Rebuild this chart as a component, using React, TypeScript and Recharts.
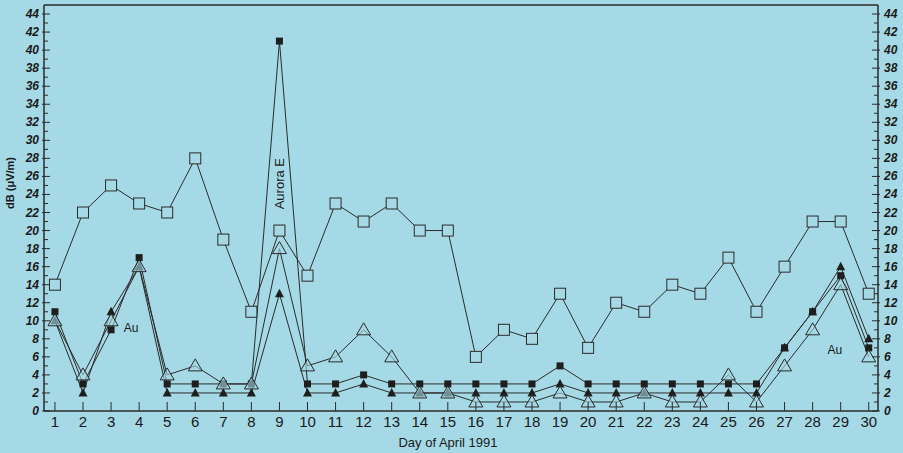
import { Line, LineChart, ReferenceDot, ReferenceLine, XAxis, YAxis } from "recharts";

const BG = "#a5d9e5";
const INK = "#2b2b2b";
const FONT = "'Liberation Sans', Arial, Helvetica, sans-serif";

const days = [
  1, 2, 3, 4, 5, 6, 7, 8, 9, 10, 11, 12, 13, 14, 15, 16, 17, 18, 19, 20, 21,
  22, 23, 24, 25, 26, 27, 28, 29, 30,
];
// open squares
const openSquare = [
  14, 22, 25, 23, 22, 28, 19, 11, 20, 15, 23, 21, 23, 20, 20, 6, 9, 8, 13, 7,
  12, 11, 14, 13, 17, 11, 16, 21, 21, 13,
];
// filled squares
const filledSquare = [
  11, 3, 9, 17, 3, 3, 3, 3, 41, 3, 3, 4, 3, 3, 3, 3, 3, 3, 5, 3, 3, 3, 3, 3, 3,
  3, 7, 11, 15, 7,
];
// filled triangles
const filledTriangle = [
  10, 2, 11, 16, 2, 2, 2, 2, 13, 2, 2, 3, 2, 2, 2, 2, 2, 2, 3, 2, 2, 2, 2, 2, 2,
  2, 7, 11, 16, 8,
];
// open triangles
const openTriangle = [
  10, 4, 10, 16, 4, 5, 3, 3, 18, 5, 6, 9, 6, 2, 2, 1, 1, 1, 2, 1, 1, 2, 1, 1, 4,
  1, 5, 9, 14, 6,
];

const yTicks = Array.from({ length: 45 }, (_, i) => i); // 0..44, labels on even

const data = days.map((d, i) => ({
  day: d,
  os: openSquare[i],
  fs: filledSquare[i],
  ft: filledTriangle[i],
  ot: openTriangle[i],
}));

const OpenSquareDot = (p: any) => (
  <rect
    key={`os-${p.index}`}
    x={p.cx - 5.5}
    y={p.cy - 5.5}
    width={11}
    height={11}
    fill={BG}
    stroke={INK}
    strokeWidth={1}
  />
);
const FilledSquareDot = (p: any) => (
  <rect
    key={`fs-${p.index}`}
    x={p.cx - 3.5}
    y={p.cy - 3.5}
    width={7}
    height={7}
    fill="#1e1e1e"
  />
);
const FilledTriangleDot = (p: any) => (
  <path
    key={`ft-${p.index}`}
    d={`M${p.cx},${p.cy - 5} L${p.cx + 4.5},${p.cy + 3.5} L${p.cx - 4.5},${p.cy + 3.5} Z`}
    fill="#1e1e1e"
  />
);
const OpenTriangleDot = (p: any) => (
  <path
    key={`ot-${p.index}`}
    d={`M${p.cx},${p.cy - 7} L${p.cx + 7},${p.cy + 5} L${p.cx - 7},${p.cy + 5} Z`}
    fill={BG}
    fillOpacity={0.6}
    stroke={INK}
    strokeWidth={1}
  />
);

const LeftTick = (p: any) => {
  const v = p.payload.value;
  const major = v % 2 === 0;
  return (
    <g>
      <line x1={p.x - (major ? 2 : 0)} x2={p.x + (major ? 6 : 4)} y1={p.y} y2={p.y} stroke={INK} />
      {major && (
        <text
          x={p.x - 5}
          y={p.y + 4}
          textAnchor="end"
          fontSize={12}
          fontWeight="bold"
          fontStyle="italic"
          fill="#1a1a1a"
          fontFamily={FONT}
        >
          {v}
        </text>
      )}
    </g>
  );
};

const RightTick = (p: any) => {
  const v = p.payload.value;
  const major = v % 2 === 0;
  return (
    <g>
      <line x1={p.x + (major ? 2 : 0)} x2={p.x - (major ? 6 : 4)} y1={p.y} y2={p.y} stroke={INK} />
      {major && (
        <text
          x={p.x + 6}
          y={p.y + 4}
          textAnchor="start"
          fontSize={12}
          fontWeight="bold"
          fontStyle="italic"
          fill="#1a1a1a"
          fontFamily={FONT}
        >
          {v}
        </text>
      )}
    </g>
  );
};

const DayTick = (p: any) => (
  <g>
    <line x1={p.x} x2={p.x} y1={p.y} y2={p.y - 9} stroke={INK} />
    <text
      x={p.x}
      y={p.y + 16}
      textAnchor="middle"
      fontSize={15}
      fill="#1a1a1a"
      fontFamily={FONT}
    >
      {p.payload.value}
    </text>
  </g>
);

export default function App() {
  return (
    <div
      style={{
        position: "absolute",
        left: 0,
        top: 0,
        width: 903,
        height: 453,
        background: BG,
      }}
    >
      <LineChart
        width={903}
        height={453}
        data={data}
        margin={{ top: 5, right: 0, bottom: 0, left: 0 }}
      >
        <XAxis
          dataKey="day"
          type="number"
          domain={[0.61, 30.33]}
          allowDataOverflow
          ticks={days}
          interval={0}
          height={42}
          tickSize={0}
          tickMargin={0}
          tick={DayTick}
          axisLine={{ stroke: INK, strokeWidth: 1.5 }}
          label={{
            content: (lp: any) => (
              <text
                x={lp.viewBox.x + lp.viewBox.width / 2 - 13}
                y={lp.viewBox.y + 36}
                textAnchor="middle"
                fontSize={13}
                fill="#1a1a1a"
                fontFamily={FONT}
              >
                Day of April 1991
              </text>
            ),
          }}
        />
        <YAxis
          yAxisId="left"
          type="number"
          domain={[0, 45]}
          allowDataOverflow
          ticks={yTicks}
          interval={0}
          width={44}
          tickSize={0}
          tickMargin={0}
          tick={LeftTick}
          axisLine={{ stroke: INK, strokeWidth: 1.5 }}
          label={{
            content: (lp: any) => {
              const x = lp.viewBox.x + 14;
              const y = lp.viewBox.y + 178;
              return (
                <text
                  x={x}
                  y={y}
                  transform={`rotate(-90, ${x}, ${y})`}
                  textAnchor="middle"
                  fontSize={11}
                  fontWeight="bold"
                  fill="#1a1a1a"
                  fontFamily={FONT}
                >
                  dB (μV/m)
                </text>
              );
            },
          }}
        />
        <YAxis
          yAxisId="right"
          orientation="right"
          type="number"
          domain={[0, 45]}
          allowDataOverflow
          ticks={yTicks}
          interval={0}
          width={25}
          tickSize={0}
          tickMargin={0}
          tick={RightTick}
          axisLine={{ stroke: INK, strokeWidth: 1.5 }}
        />
        <ReferenceLine yAxisId="left" y={45} stroke={INK} strokeWidth={1.5} />
        <Line
          yAxisId="left"
          dataKey="os"
          stroke={INK}
          strokeWidth={1}
          dot={OpenSquareDot}
          isAnimationActive={false}
        />
        <Line
          yAxisId="left"
          dataKey="fs"
          stroke={INK}
          strokeWidth={1}
          dot={FilledSquareDot}
          isAnimationActive={false}
        />
        <Line
          yAxisId="left"
          dataKey="ft"
          stroke={INK}
          strokeWidth={1}
          dot={FilledTriangleDot}
          isAnimationActive={false}
        />
        <Line
          yAxisId="left"
          dataKey="ot"
          stroke={INK}
          strokeWidth={1}
          dot={OpenTriangleDot}
          isAnimationActive={false}
        />
        <ReferenceDot
          yAxisId="left"
          x={9}
          y={25.2}
          r={0}
          label={{
            value: "Aurora E",
            angle: -90,
            position: "center",
            fontSize: 13,
            fill: "#1a1a1a",
            fontFamily: FONT,
          }}
        />
        <ReferenceDot
          yAxisId="left"
          x={3.71}
          y={9.2}
          r={0}
          label={{ value: "Au", position: "center", fontSize: 12, fill: "#1a1a1a", fontFamily: FONT }}
        />
        <ReferenceDot
          yAxisId="left"
          x={28.79}
          y={6.75}
          r={0}
          label={{ value: "Au", position: "center", fontSize: 12, fill: "#1a1a1a", fontFamily: FONT }}
        />
      </LineChart>
    </div>
  );
}
